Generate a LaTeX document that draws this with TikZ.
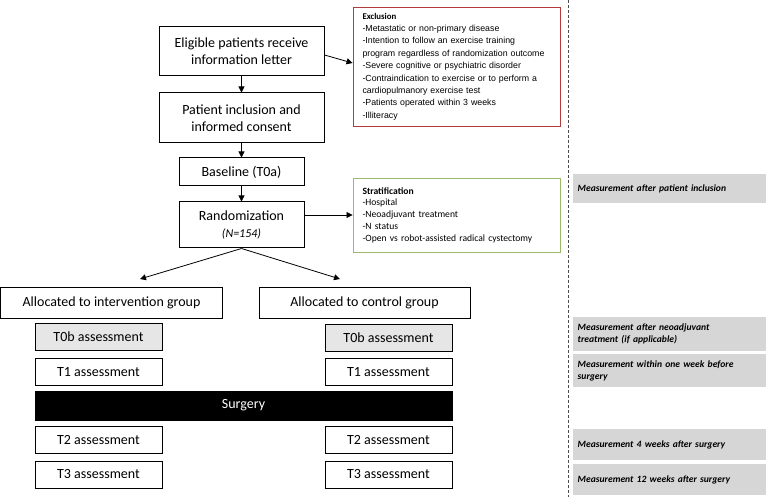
\documentclass[tikz,border=0pt]{standalone}
\usepackage{fontspec}
\setmainfont{Carlito}
\newfontfamily\arialf{Liberation Sans}
\usetikzlibrary{arrows.meta}
\definecolor{exred}{HTML}{B23B3B}
\definecolor{stgreen}{HTML}{9CBB6A}
\definecolor{lgrey}{HTML}{E6E6E6}
\definecolor{mgrey}{HTML}{D6D6D6}
\tikzset{
  box/.style={draw=black, line width=1pt, fill=white, inner sep=0pt, align=center, font=\fontsize{14}{17}\selectfont},
  abox/.style={box, minimum width=127pt, minimum height=27pt},
  gbox/.style={abox, fill=lgrey},
  notebox/.style={draw, line width=0.9pt, inner sep=0pt, text width=188pt, align=left},
  meas/.style={fill=mgrey, inner sep=0pt, anchor=west, minimum width=193pt, text width=184pt, align=left, font=\fontsize{9.6}{12}\selectfont\bfseries\itshape},
  arr/.style={-{Triangle[length=6pt,width=6pt]}, line width=0.8pt},
}
\begin{document}
\begin{tikzpicture}[x=1pt,y=-1pt]
\useasboundingbox[fill=white] (0,0) rectangle (766,497);
% dashed separator
\draw[dashed, dash pattern=on 3pt off 2pt, line width=0.8pt, black!70] (568,0) -- (568,497);
% main column
\node[box, minimum width=165pt, minimum height=49pt] (elig) at (241.5,51.5) {Eligible patients receive\\information letter};
\node[box, minimum width=165pt, minimum height=50pt] (incl) at (241.5,118) {Patient inclusion and\\informed consent};
\node[box, minimum width=125pt, minimum height=28pt] (base) at (241.5,172) {Baseline (T0a)};
\node[box, minimum width=125pt, minimum height=46pt] (rand) at (241.5,225) {Randomization\\{\fontsize{12}{15}\selectfont\itshape (N=154)}};
% side notes
\node[notebox, draw=exred, minimum width=207pt, minimum height=119pt, font=\fontsize{8.8}{12.4}\selectfont\arialf] (excl) at (456.5,66.5) {{\rmfamily\bfseries Exclusion}\\-Metastatic or non-primary disease\\-Intention to follow an exercise training\\program regardless of randomization outcome\\-Severe cognitive or psychiatric disorder\\-Contraindication to exercise or to perform a\\cardiopulmanory exercise test\\-Patients operated within 3 weeks\\-Illiteracy};
\node[notebox, draw=stgreen, minimum width=207pt, minimum height=74pt, font=\fontsize{9.6}{11.8}\selectfont] (strat) at (456.5,215) {\textbf{Stratification}\\-Hospital\\-Neoadjuvant treatment\\-N status\\-Open vs robot-assisted radical cystectomy};
% arrows main
\draw[arr] (elig) -- (incl);
\draw[arr] (incl) -- (base);
\draw[arr] (base) -- (rand);
\draw[arr] (elig.east |- 0,55) -- (excl.west |- 0,63);
\draw[arr] (rand.east |- 0,215) -- (strat.west |- 0,215);
% allocation
\node[box, minimum width=222pt, minimum height=31pt] (aint) at (111.5,302.5) {Allocated to intervention group};
\node[box, minimum width=211pt, minimum height=31pt] (actl) at (364.5,302.5) {Allocated to control group};
\coordinate (tipL) at (140,279);
\coordinate (tipR) at (340,279);
\draw[arr] (rand.south) -- (tipL);
\draw[arr] (rand.south) -- (tipR);
% assessments left
\node[gbox] (t0bL) at (98.5,336.5) {T0b assessment};
\node[abox] (t1L) at (98.5,372) {T1 assessment};
\node[abox] (t2L) at (98.5,440) {T2 assessment};
\node[abox] (t3L) at (98.5,474.5) {T3 assessment};
% assessments right
\node[gbox] (t0bR) at (388.5,337.5) {T0b assessment};
\node[abox] (t1R) at (388.5,372) {T1 assessment};
\node[abox] (t2R) at (388.5,440) {T2 assessment};
\node[abox] (t3R) at (388.5,474.5) {T3 assessment};
% surgery
\node[box, fill=black, text=white, minimum width=417pt, minimum height=29pt] (surg) at (243.5,405.5) {Surgery};
% measurement labels
\node[meas, minimum height=29pt] (m0) at (573,188.5) {Measurement after patient inclusion};
\node[meas, minimum height=34pt] (m1) at (573,334) {Measurement after neoadjuvant\\treatment (if applicable)};
\node[meas, minimum height=33pt] (m2) at (573,370.5) {Measurement within one week before\\surgery};
\node[meas, minimum height=31pt] (m3) at (573,444.5) {Measurement 4 weeks after surgery};
\node[meas, minimum height=31pt] (m4) at (573,479.5) {Measurement 12 weeks after surgery};
\end{tikzpicture}
\end{document}
